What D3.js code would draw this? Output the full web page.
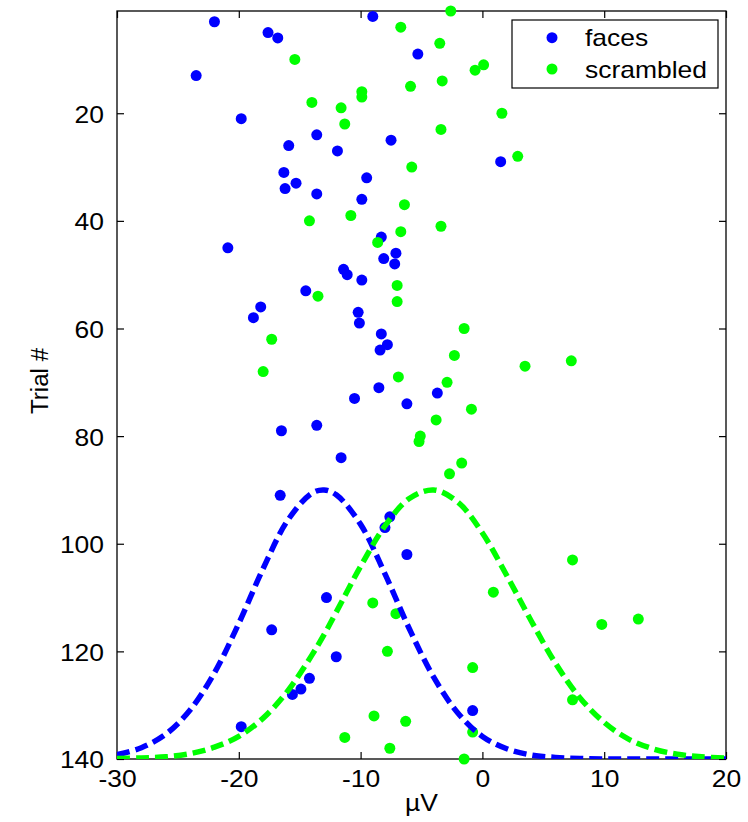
<!DOCTYPE html>
<html>
<head>
<meta charset="utf-8">
<script src="https://cdn.jsdelivr.net/npm/d3@7"></script>
<style>
  html, body { margin: 0; padding: 0; background: #fff; }
  svg { display: block; }
  text { font-family: "Liberation Sans", Arial, Helvetica, sans-serif; fill: #000; }
</style>
</head>
<body>
<script>
// ---- data ----
const facesTrial = [2,3,5,6,9,13,21,24,25,26,27,29,31,32,33,34,35,36,43,45,46,47,48,49,50,51,53,56,57,58,59,61,63,64,71,72,73,74,78,79,84,91,95,97,102,110,116,121,125,127,128,131,134];
const facesUV    = [-9.0,-22.0,-17.6,-16.8,-5.3,-23.5,-19.8,-13.6,-7.5,-15.9,-11.9,1.5,-16.3,-9.5,-15.3,-16.2,-13.6,-9.9,-8.3,-20.9,-7.1,-8.1,-7.2,-11.4,-11.1,-9.9,-14.5,-18.2,-10.2,-18.8,-10.1,-8.3,-7.8,-8.4,-8.5,-3.7,-10.5,-6.2,-13.6,-16.5,-11.6,-16.6,-7.6,-8.0,-6.2,-12.8,-17.3,-12.0,-14.2,-14.9,-15.6,-0.8,-19.8];

const scrTrial = [1,4,7,10,11,12,14,15,16,17,18,19,20,22,23,28,30,37,39,40,41,42,44,52,54,55,60,62,65,66,67,68,69,70,75,77,80,81,85,87,103,109,111,113,114,115,120,123,129,132,133,135,136,138,140];
const scrUV    = [-2.6,-6.7,-3.5,-15.4,0.1,-0.6,-3.3,-5.9,-9.9,-9.9,-14.0,-11.6,1.6,-11.3,-3.4,2.9,-5.8,-6.4,-10.8,-14.2,-3.4,-6.7,-8.6,-7.0,-13.5,-7.0,-1.5,-17.3,-2.3,7.3,3.5,-18.0,-6.9,-2.9,-0.9,-3.8,-5.1,-5.2,-1.7,-2.7,7.4,0.9,-9.0,-7.1,12.8,9.8,-7.8,-0.8,7.4,-8.9,-6.3,-0.8,-11.3,-7.6,-1.5];

// fitted distribution curves
const curveX      = [-30,-28,-26,-24,-22,-20,-18,-16,-14,-13,-12,-10,-8,-6,-4,-2,0,2,4,6,8,10,12,14,16,18,20];
const facesCurve  = [139.2,137.9,135.4,130.9,124.0,114.8,104.6,95.7,90.6,90.0,90.9,96.4,105.6,115.8,124.8,131.5,135.8,138.1,139.25,139.7,139.9,140,140,140,140,140,140];
const scrCurve    = [139.9,139.8,139.6,139.0,137.8,135.8,132.4,127.4,120.7,116.9,112.7,104.2,96.7,91.6,90.0,92.3,98.0,105.9,114.3,122.2,128.6,133.2,136.3,138.1,139.1,139.6,139.85];

const xTicks = [-30,-20,-10,0,10,20];
const yTicks = [20,40,60,80,100,120,140];
const seriesNames = ["faces","scrambled"];
const seriesColors = ["#0000ff","#00ff00"];

// ---- layout ----
const W = 748, H = 822;
const L = 117, R = 726, T = 11, B = 759;

const svg = d3.select("body").append("svg").attr("width", W).attr("height", H);

const x = d3.scaleLinear().domain([-30, 20]).range([L, R]);
const y = d3.scaleLinear().domain([1, 140]).range([T, B]);

svg.append("defs").append("clipPath").attr("id","plotclip")
  .append("rect").attr("x", L).attr("y", T).attr("width", R-L).attr("height", B-T);

const fontSize = 23;
const stretch = 1.15;
const fmt = d => String(d);

// axes (MATLAB box style: inward ticks on all four sides)
const tickLen = 7;
const axB = svg.append("g").attr("transform", `translate(0,${B})`)
  .call(d3.axisBottom(x).tickValues(xTicks).tickSizeInner(-tickLen).tickSizeOuter(0).tickPadding(0).tickFormat(fmt));
const axT = svg.append("g").attr("transform", `translate(0,${T})`)
  .call(d3.axisTop(x).tickValues(xTicks).tickSizeInner(-tickLen).tickSizeOuter(0).tickFormat(""));
const axL = svg.append("g").attr("transform", `translate(${L},0)`)
  .call(d3.axisLeft(y).tickValues(yTicks).tickSizeInner(-tickLen).tickSizeOuter(0).tickPadding(0).tickFormat(fmt));
const axR = svg.append("g").attr("transform", `translate(${R},0)`)
  .call(d3.axisRight(y).tickValues(yTicks).tickSizeInner(-tickLen).tickSizeOuter(0).tickFormat(""));

[axB, axT, axL, axR].forEach(a => {
  a.select(".domain").remove();
  a.selectAll(".tick line").attr("stroke", "#000").attr("stroke-width", 1.2);
});

// x tick labels
axB.selectAll(".tick text")
  .attr("y", null).attr("dy", null)
  .attr("font-size", fontSize)
  .attr("fill", "#000")
  .attr("transform", `translate(0,28) scale(${stretch},1)`);
// y tick labels
axL.selectAll(".tick text")
  .attr("x", null).attr("dy", null)
  .attr("font-size", fontSize)
  .attr("fill", "#000")
  .attr("dominant-baseline", "central")
  .attr("transform", `translate(-13,1) scale(${stretch},1)`);

// box
svg.append("rect").attr("x", L).attr("y", T).attr("width", R-L).attr("height", B-T)
  .attr("fill", "none").attr("stroke", "#000").attr("stroke-width", 1.3);

// points
const faces = facesTrial.map((t,i) => ({t, v: facesUV[i]}));
const scr = scrTrial.map((t,i) => ({t, v: scrUV[i]}));
const r = 5.5;

svg.append("g").selectAll("circle").data(faces).join("circle")
  .attr("cx", d => x(d.v)).attr("cy", d => y(d.t)).attr("r", r)
  .attr("fill", seriesColors[0]);
svg.append("g").selectAll("circle").data(scr).join("circle")
  .attr("cx", d => x(d.v)).attr("cy", d => y(d.t)).attr("r", r)
  .attr("fill", seriesColors[1]);

// curves
const line = d3.line().x(d => x(d[0])).y(d => y(d[1])).curve(d3.curveCatmullRom);
const gC = svg.append("g").attr("clip-path", "url(#plotclip)");
[facesCurve, scrCurve].forEach((c, k) => {
  gC.append("path")
    .attr("d", line(curveX.map((xv,i) => [xv, c[i]])))
    .attr("fill", "none")
    .attr("stroke", seriesColors[k])
    .attr("stroke-width", 5.5)
    .attr("stroke-dasharray", "13,6");
});

// axis labels
svg.append("text")
  .attr("transform", `translate(${(L+R)/2},811) scale(${stretch},1)`)
  .attr("text-anchor", "middle").attr("font-size", fontSize)
  .text("µV");
svg.append("text")
  .attr("transform", `translate(48,381) rotate(-90) scale(1.05,1)`)
  .attr("text-anchor", "middle").attr("font-size", fontSize)
  .text("Trial #");

// legend
const lg = svg.append("g");
lg.append("rect").attr("x", 512).attr("y", 20).attr("width", 206).attr("height", 68)
  .attr("fill", "#fff").attr("stroke", "#000").attr("stroke-width", 1.2);
const legY = [37.7, 69];
seriesNames.forEach((n, i) => {
  lg.append("circle").attr("cx", 552).attr("cy", legY[i]).attr("r", r).attr("fill", seriesColors[i]);
  lg.append("text")
    .attr("transform", `translate(585,${legY[i] + 8.5}) scale(${stretch},1)`)
    .attr("font-size", fontSize)
    .text(n);
});
</script>
</body>
</html>
